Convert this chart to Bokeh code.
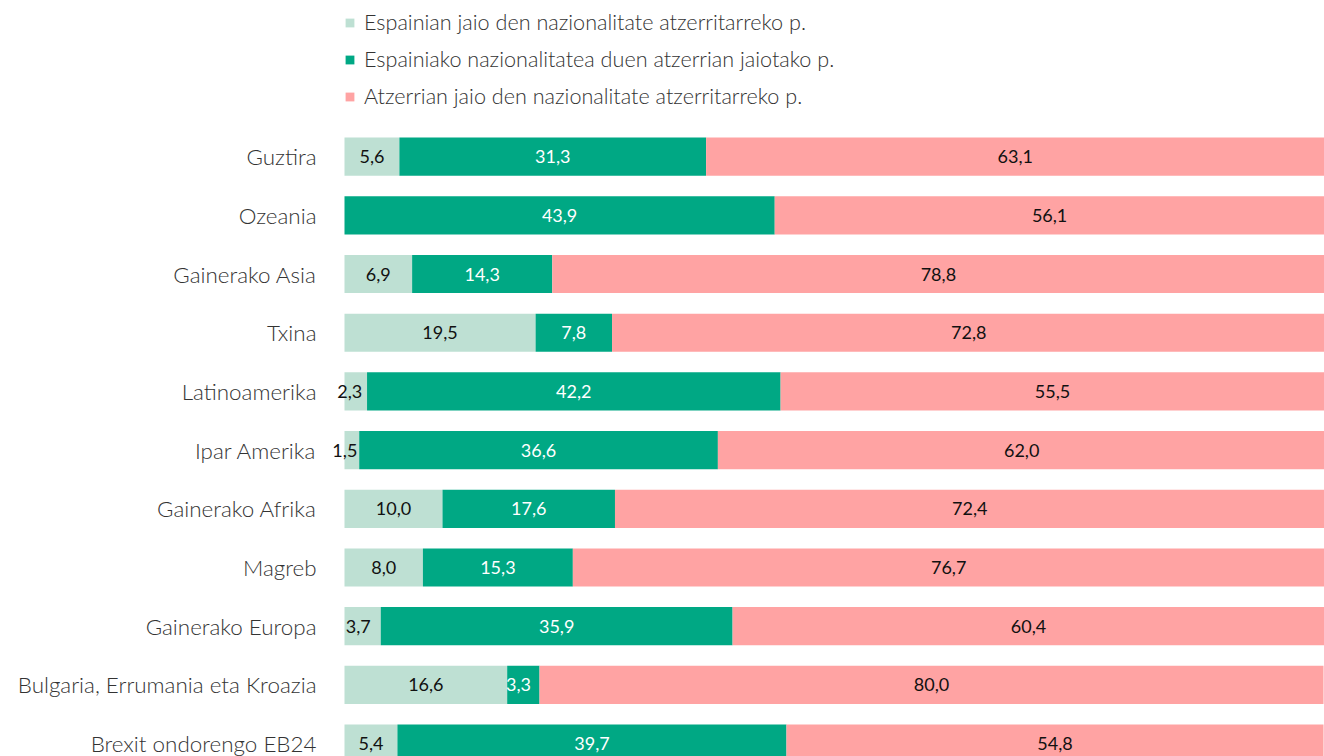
from bokeh.plotting import figure
from bokeh.models import ColumnDataSource, Legend, LegendItem, Range1d, FixedTicker
from bokeh.core.properties import value
from bokeh.embed import file_html
from bokeh.resources import INLINE

categories = ["Guztira", "Ozeania", "Gainerako Asia", "Txina", "Latinoamerika",
              "Ipar Amerika", "Gainerako Afrika", "Magreb", "Gainerako Europa",
              "Bulgaria, Errumania eta Kroazia", "Brexit ondorengo EB24"]
born_spain_foreign = [5.6, 0.0, 6.9, 19.5, 2.3, 1.5, 10.0, 8.0, 3.7, 16.6, 5.4]
foreign_born_spanish = [31.3, 43.9, 14.3, 7.8, 42.2, 36.6, 17.6, 15.3, 35.9, 3.3, 39.7]
foreign_born_foreign = [63.1, 56.1, 78.8, 72.8, 55.5, 62.0, 72.4, 76.7, 60.4, 80.0, 54.8]
series_names = ["Espainian jaio den nazionalitate atzerritarreko p.",
                "Espainiako nazionalitatea duen atzerrian jaiotako p.",
                "Atzerrian jaio den nazionalitate atzerritarreko p."]
colors = ["#bee0d3", "#00a884", "#ffa3a3"]
label_colors = ["#111111", "#ffffff", "#111111"]

FONT = "Lato"
LIGHT = "Lato Light"
W, H = 1324, 756
ypos = list(range(len(categories)))

src = ColumnDataSource(dict(y=ypos, s1=born_spain_foreign, s2=foreign_born_spanish,
                            s3=foreign_born_foreign))

p = figure(width=W, height=H, output_backend="svg", toolbar_location=None,
           x_range=Range1d(-2.449, 100), y_range=Range1d(10.22, -2.66),
           x_axis_location=None, min_border_left=320, min_border_right=0,
           min_border_bottom=0, min_border_top=0)
p.outline_line_color = None
p.grid.visible = False
p.background_fill_color = "white"

rs = p.hbar_stack(["s1", "s2", "s3"], y="y", height=0.65, color=colors,
                  line_color=None, source=src)

# value labels
lx, ly, lt, lc, lo = [], [], [], [], []
for i in range(len(categories)):
    left = 0.0
    for k, vals in enumerate([born_spain_foreign, foreign_born_spanish, foreign_born_foreign]):
        v = vals[i]
        if v > 0:
            lx.append(left + v / 2)
            ly.append(ypos[i])
            lt.append(f"{v:.1f}".replace(".", ","))
            lc.append(label_colors[k])
            lo.append(-(4 + (4 - v) * 1.2) if v < 4 else 0)
        left += v
lsrc = ColumnDataSource(dict(x=lx, y=ly, t=lt, c=lc, o=lo))
p.text(x="x", y="y", text="t", text_color="c", x_offset="o", source=lsrc,
       text_align="center", text_baseline="middle",
       text_font=value(FONT), text_font_size="18px")

ax = p.yaxis[0]
ax.ticker = FixedTicker(ticks=ypos)
ax.major_label_overrides = {i: c for i, c in zip(ypos, categories)}
ax.axis_line_color = None
ax.major_tick_line_color = None
ax.minor_tick_line_color = None
ax.major_tick_out = 0
ax.major_tick_in = 0
ax.major_label_standoff = 4
ax.major_label_text_font = LIGHT
ax.major_label_text_font_size = "22.4px"
ax.major_label_text_color = "#333333"

LEG_H = 3 * 28 + 2 * 9
legend = Legend(items=[LegendItem(label=n, renderers=[r]) for n, r in zip(series_names, rs)],
                location=(24, H - 8 - LEG_H), orientation="vertical",
                glyph_width=11, glyph_height=11, label_height=28, spacing=9,
                label_standoff=9, padding=0, margin=0, border_line_color=None,
                label_text_font=LIGHT, label_text_font_size="21.6px",
                label_text_color="#333333", background_fill_alpha=0)
p.add_layout(legend, "center")

open("out.html", "w").write(file_html(p, INLINE))
